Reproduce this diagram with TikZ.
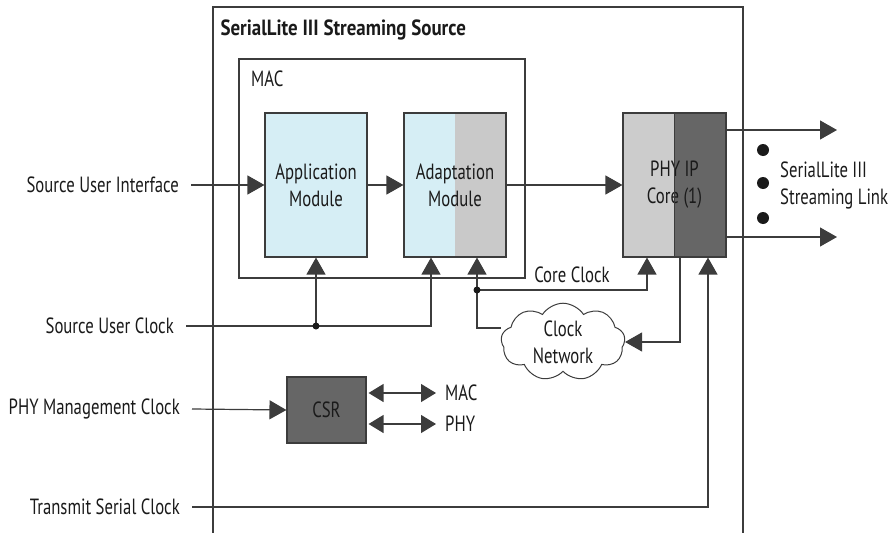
\documentclass[tikz,border=0pt]{standalone}
\usepackage{fontspec}
\setmainfont{PT Sans}[FakeStretch=0.76, BoldFeatures={FakeStretch=0.86}]
\usetikzlibrary{arrows.meta,shapes.symbols,positioning}
\definecolor{appblue}{HTML}{D6EEF5}
\definecolor{adaptgray}{HTML}{C9C9C9}
\definecolor{phylight}{HTML}{CCCCCC}
\definecolor{phydark}{HTML}{666666}
\definecolor{wirecol}{HTML}{3C3C3C}
\definecolor{inkcol}{HTML}{1A1A1A}
\tikzset{every node/.style={font=\fontsize{22}{27}\selectfont, text=inkcol},
        wire/.style={draw=wirecol, line width=1.2pt},
        sig/.style={wire, -{Triangle[length=17pt,width=19pt]}},
        bisig/.style={wire, {Triangle[length=15pt,width=18pt]}-{Triangle[length=15pt,width=18pt]}},
        module/.style={draw=wirecol, line width=1.1pt, fill=appblue, minimum width=102pt,
                       minimum height=144pt, align=center, inner sep=0pt},
        group/.style={draw=wirecol, line width=1.1pt, minimum width=286pt, minimum height=219pt, inner sep=0pt},
        portlabel/.style={anchor=east, inner xsep=12pt, inner ysep=0pt},
        junction/.style={fill=inkcol},
        }

\begin{document}
\begin{tikzpicture}[x=1pt,y=-1pt]
    \useasboundingbox (0,0) rectangle (895,533);

    % outer block, open at the bottom
    \draw [wire] (213,533) |- (743,7) -- (743,533);
    \node [anchor=west, font=\fontsize{22}{27}\selectfont\bfseries] (title) at (217,30) {SerialLite III Streaming Source};

    \node [group] (mac) at (382,168.5) {};
    \node [anchor=west, inner sep=3pt] (maclabel) at (248,79) {MAC};

    \node [module] (app) at (316,185) {Application\\Module};
    \node [module, path picture={\fill[adaptgray] (path picture bounding box.north) rectangle (path picture bounding box.south east);}]
          (adapt) at (455,185) {Adaptation\\Module};
    \node [module, minimum width=103pt, fill=phylight,
           path picture={\fill[phydark] (path picture bounding box.north) rectangle (path picture bounding box.south east);}]
          (phy) at (674.5,185) {PHY IP\\Core (1)};
    \draw [wire] (phy.north) -- (phy.south);

    \node [draw=wirecol, line width=1.1pt, fill=phydark, minimum width=79pt, minimum height=66pt, inner sep=0pt]
          (csr) at (326.5,410) {CSR};
    \node [draw=wirecol, line width=1pt, cloud, cloud puffs=9, cloud puff arc=115, aspect=1.8,
           minimum width=124pt, minimum height=74pt, inner sep=0pt, align=center]
          (net) at (563,342) {Clock\\Network};

    % ports on the left
    \node [portlabel] (sui) at (191,185) {Source User Interface};
    \node [portlabel] (suc) at (186,326) {Source User Clock};
    \node [portlabel] (pmc) at (192,409) {PHY Management Clock};
    \node [portlabel] (tsc) at (192,507) {Transmit Serial Clock};

    % data path
    \draw [sig] (sui.east) -- (app.west);
    \draw [sig] (app.east) -- (adapt.west);
    \draw [sig] (adapt.east) -- (phy.west);

    \coordinate (lane1) at (837,130);
    \coordinate (lane2) at (837,237);
    \draw [sig] (phy.east |- lane1) -- (lane1);
    \draw [sig] (phy.east |- lane2) -- (lane2);
    \foreach \y in {150,183,218}
        \fill [inkcol] (763,\y) circle (6pt);
    \node [anchor=west, align=left, inner sep=0pt] (link) at (780,185) {SerialLite III\\Streaming Link};

    % clocks
    \coordinate (sucdot) at (316,326);
    \draw [sig] (suc.east) -| ([xshift=-24pt]adapt.south);
    \draw [sig] (sucdot) -- (app.south);
    \fill [junction] (sucdot) circle (3.5pt);

    \coordinate (ccdot) at (477,290);
    \draw [sig] (ccdot) -- ([xshift=22pt]adapt.south);
    \draw [sig] (ccdot) -| ([xshift=-27.5pt]phy.south);
    \draw [wire] (ccdot) |- ([yshift=14pt]net.west);
    \fill [junction] (ccdot) circle (3.5pt);
    \node [inner sep=0pt] (cclabel) at (572,275) {Core Clock};

    \draw [sig] ([xshift=5.5pt]phy.south) |- (net.east);
    \draw [sig] (tsc.east) -| ([xshift=33.5pt]phy.south);

    % control and status
    \draw [sig] (pmc.east) -- (csr.west);
    \node [anchor=west, inner sep=0pt] (csrmac) at (445,393) {MAC};
    \node [anchor=west, inner sep=0pt] (csrphy) at (445,424) {PHY};
    \draw [bisig] ([xshift=2pt]csr.east |- csrmac) -- ([xshift=-9pt]csrmac.west);
    \draw [bisig] ([xshift=2pt]csr.east |- csrphy) -- ([xshift=-9pt]csrphy.west);

\end{tikzpicture}
\end{document}
